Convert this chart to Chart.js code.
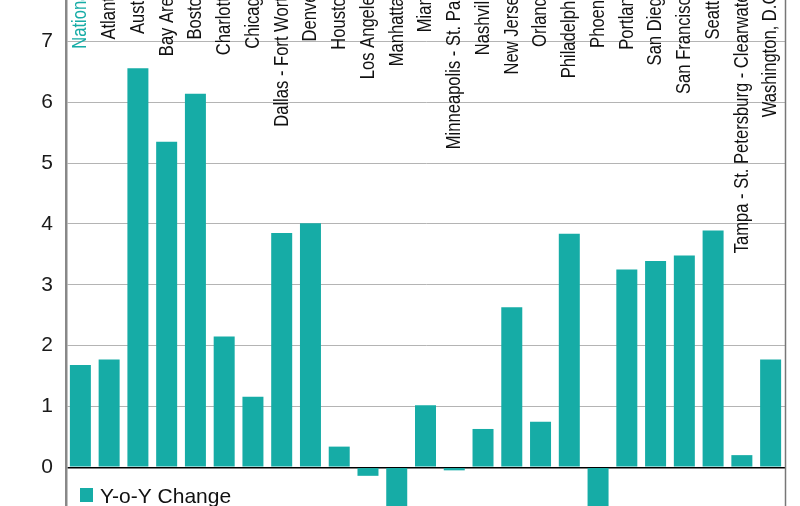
<!DOCTYPE html>
<html>
<head>
<meta charset="utf-8">
<script src="https://cdn.jsdelivr.net/npm/chart.js@4/dist/chart.umd.min.js"></script>
<style>
html,body{margin:0;padding:0;background:#fff;}
#wrap{width:800px;height:506px;}
</style>
</head>
<body>
<div id="wrap"><canvas id="c" width="800" height="506"></canvas></div>
<script>
const categories = ["National","Atlanta","Austin","Bay Area","Boston","Charlotte","Chicago","Dallas - Fort Worth","Denver","Houston","Los Angeles","Manhattan","Miami","Minneapolis - St. Paul","Nashville","New Jersey","Orlando","Philadelphia","Phoenix","Portland","San Diego","San Francisco","Seattle","Tampa - St. Petersburg - Clearwater","Washington, D.C."];
const yoyChange = [1.68,1.77,6.56,5.35,6.14,2.15,1.16,3.85,4.01,0.34,-0.14,-1.3,1.02,-0.05,0.63,2.63,0.75,3.84,-1.0,3.25,3.39,3.48,3.89,0.20,1.77];
const seriesName = "Y-o-Y Change";
const yTicks = [0,1,2,3,4,5,6,7];

const TEAL = '#16aca6';

const overlay = {
  id:'overlay',
  afterDatasetsDraw(chart){
    const ctx = chart.ctx, x = chart.scales.x, a = chart.chartArea;
    ctx.save();
    // right border
    ctx.strokeStyle = '#777';
    ctx.lineWidth = 1.5;
    ctx.beginPath(); ctx.moveTo(a.right+0.5, a.top); ctx.lineTo(a.right+0.5, a.bottom); ctx.stroke();
    // category labels (condensed)
    ctx.font = '19.5px "Liberation Sans", Arial, sans-serif';
    ctx.textAlign = 'right';
    ctx.textBaseline = 'middle';
    categories.forEach((c,i)=>{
      const px = x.getPixelForValue(i);
      ctx.save();
      ctx.translate(px + 0.5, -12);
      ctx.rotate(-Math.PI/2);
      ctx.scale(0.85, 1);
      ctx.fillStyle = i===0 ? TEAL : '#111';
      ctx.fillText(c, 0, 0);
      ctx.restore();
    });
    // legend
    ctx.fillStyle = TEAL;
    ctx.fillRect(80, 488, 13, 14);
    ctx.fillStyle = '#111';
    ctx.font = '21px "Liberation Sans", Arial, sans-serif';
    ctx.textAlign = 'left';
    ctx.textBaseline = 'alphabetic';
    ctx.fillText(seriesName, 100, 503);
    ctx.restore();
  }
};

new Chart(document.getElementById('c'), {
  type:'bar',
  data:{
    labels: categories,
    datasets:[{
      label: seriesName,
      data: yoyChange,
      backgroundColor: TEAL,
      borderWidth: 0,
      barPercentage: 0.73,
      categoryPercentage: 1.0
    }]
  },
  options:{
    responsive:false,
    animation:false,
    devicePixelRatio:1,
    layout:{padding:{left:0,right:15,top:0,bottom:0}},
    plugins:{legend:{display:false},tooltip:{enabled:false}},
    scales:{
      x:{
        display:false,
        offset:true
      },
      y:{
        min:-0.636,
        max:7.68,
        afterFit(s){ s.width = 66; s.paddingTop = 0; s.paddingBottom = 0; },
        afterBuildTicks(s){ s.ticks = yTicks.map(v=>({value:v})); },
        ticks:{
          includeBounds:false,
          padding:13,
          color:'#1a1a1a',
          font:{family:'"Liberation Sans", Arial, sans-serif', size:21}
        },
        grid:{
          drawTicks:false,
          color:(c)=> (c.tick && c.tick.value===0) ? '#000' : '#b4b4b4',
          lineWidth:(c)=> (c.tick && c.tick.value===0) ? 1.5 : 1
        },
        border:{display:true,color:'#888',width:2.5}
      }
    }
  },
  plugins:[overlay]
});
</script>
</body>
</html>
